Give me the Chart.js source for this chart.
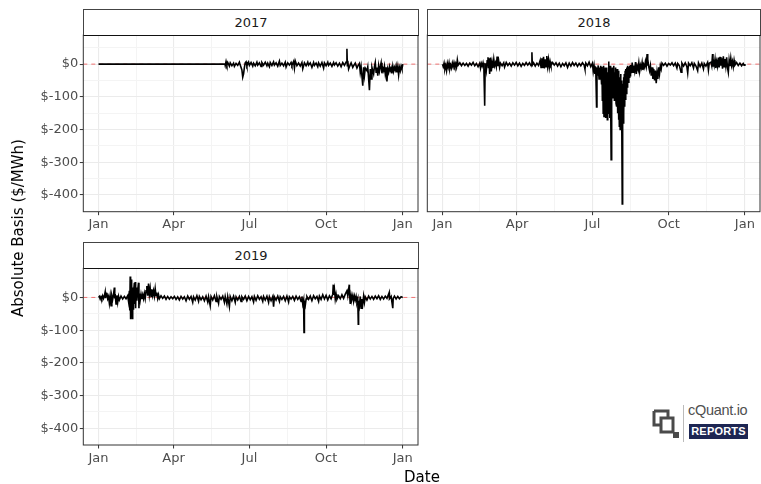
<!DOCTYPE html>
<html>
<head>
<meta charset="utf-8">
<script src="https://cdn.jsdelivr.net/npm/chart.js@4.4.1/dist/chart.umd.min.js"></script>
<style>
  html, body { margin: 0; padding: 0; background: #fff; }
  #wrap { position: relative; width: 761px; height: 484px; overflow: hidden; font-family: 'DejaVu Sans', sans-serif; }
  canvas { position: absolute; }
  .strip { position: absolute; box-sizing: border-box; border: 1px solid #444; border-bottom: 1.5px solid #111; background: #fff;
           color: #1a1a1a; font-size: 13px; text-align: center; line-height: 25px; }
  .axis-title { position: absolute; white-space: nowrap; font-size: 15px; color: #000; transform: translate(-50%, -50%); }
  #ytitle { transform: translate(-50%, -50%) rotate(-90deg); }
  .vbar { position: absolute; left: 683px; top: 405px; width: 1px; height: 37px; background: #bbb; }
  .brand { position: absolute; left: 688px; top: 402px; font-family: 'Liberation Sans', sans-serif; font-size: 14.5px; color: #505050; letter-spacing: -0.3px; }
  .badge { position: absolute; left: 689px; top: 424px; width: 59px; height: 15px; background: #1d2653; color: #fff;
           font-family: 'Liberation Sans', sans-serif; font-weight: bold; font-size: 11px; line-height: 15px; text-align: center; letter-spacing: 0.2px; }
</style>
</head>
<body>
<div id="wrap">
  <canvas id="c2017" width="430" height="220" style="left:0px;top:20px"></canvas>
  <canvas id="c2018" width="341" height="220" style="left:420px;top:20px"></canvas>
  <canvas id="c2019" width="430" height="231" style="left:0px;top:253px"></canvas>

  <div class="strip" style="left:83px;top:9px;width:336px;height:27px">2017</div>
  <div class="strip" style="left:427px;top:9px;width:334px;height:27px">2018</div>
  <div class="strip" style="left:83px;top:242px;width:336px;height:27px">2019</div>

  <div class="axis-title" id="ytitle" style="left:18px;top:228px">Absolute Basis ($/MWh)</div>
  <div class="axis-title" style="left:422px;top:477px">Date</div>

  <svg style="position:absolute;left:651px;top:408px" width="30" height="32" viewBox="0 0 30 32">
    <path d="M3 3 H17 V10 M3 3 V17 H9" fill="none" stroke="#4a4a4a" stroke-width="3"/>
    <path d="M10 10 H22 V24 H10 Z" fill="none" stroke="#4a4a4a" stroke-width="3"/>
    <rect x="22" y="24" width="6" height="6" fill="#4a4a4a"/>
  </svg>
  <div class="vbar"></div>
  <div class="brand">cQuant.io</div>
  <div class="badge">REPORTS</div>
</div>

<script>
// Day-of-year positions of the month labels on the date axis
const monthTickDays = [0, 90, 181, 273, 365];
const monthTickLabels = ['Jan', 'Apr', 'Jul', 'Oct', 'Jan'];
const minorDayTicks = [45, 135.5, 227, 319];

// Basis axis breaks
const basisTicks = [0, -100, -200, -300, -400];
const basisTickLabels = ['$0', '$-100', '$-200', '$-300', '$-400'];
const minorBasisTicks = [50, -50, -150, -250, -350];

// Absolute basis ($/MWh) by day of year: [day, value]
const basis2017 = [
  [0,0],[151,0],[151.5,3],[152,-4],[153,8],[154,-3],[155,5],[157,-6],[158,4],[160,-5],[162,3],[163,-7],[165,2],[167,-4],
  [169,6],[170,-3],[172,-18],[173,-40],[174,-30],[175,-10],[176,4],[177,7],[178,-5],[180,6],[181,-4],[183,5],[185,-6],
  [186,3],[188,-5],[190,6],[191,-3],[193,4],[195,-7],[196,5],[198,-3],[200,6],[202,-5],[203,3],[205,-8],[206,5],[208,-4],
  [210,7],[211,-3],[213,4],[215,-6],[217,9],[218,-4],[220,3],[222,-5],[224,6],[225,-9],[227,4],[229,-3],[231,5],[232,-4],
  [234,8],[235,-12],[236,10],[238,-5],[240,3],[242,-6],[244,5],[245,-14],[247,4],[249,-5],[251,6],[252,-3],[254,4],
  [256,-10],[258,5],[259,-4],[261,3],[263,-8],[264,4],[266,-6],[268,5],[270,-12],[271,4],[273,-5],[275,6],[276,-4],
  [278,3],[280,-7],[282,5],[283,-3],[285,4],[287,-6],[289,3],[291,-8],[293,5],[295,-4],[297,6],[298,47],[298.5,-5],
  [299,10],[300,-15],[301,-8],[303,4],[305,-10],[306,-5],[308,3],[310,-12],[311,-6],[313,2],[314,-25],[315,-8],[317,-66],
  [318,-10],[319,-35],[320,-12],[322,-20],[323,-8],[325,-80],[326,-15],[327,-45],[328,-10],[330,-30],[331,-8],[332,5],
  [333,-25],[334,-10],[335,-35],[336,-5],[337,-22],[338,-8],[339,4],[340,-28],[341,-12],[342,-20],[343,-6],[344,-30],
  [345,-10],[346,-53],[347,-15],[348,-25],[349,-8],[350,-20],[351,-12],[352,-28],[353,-6],[354,-22],[355,-10],[356,-18],
  [357,-5],[358,-25],[359,-8],[360,-33],[361,-10],[362,-20],[363,-6],[364,-15],[365,0]
];

const basis2018 = [
  [0,0],[1,-8],[2,3],[3,-15],[4,-4],[5,-20],[6,2],[7,-10],[8,4],[9,-14],[10,-3],[11,-12],[12,3],[13,-8],[14,5],[15,-6],
  [16,2],[17,-9],[18,13],[19,-3],[21,4],[23,-5],[25,3],[27,-4],[29,2],[31,-6],[33,3],[35,-3],[37,5],[39,-5],[41,2],
  [43,-8],[45,3],[46,-12],[47,2],[48,-6],[49,4],[50,-10],[51,-127],[51.5,-20],[52,3],[53,-18],[54,10],[55,21],[55.5,-10],
  [56,18],[57,-30],[58,20],[59,-22],[60,5],[61,-12],[62,15],[63,-5],[64,4],[65,-8],[66,23],[67,-6],[68,8],[69,-10],
  [70,3],[72,-5],[74,4],[75,-9],[77,5],[79,-4],[81,3],[83,-6],[85,4],[87,-3],[89,5],[91,-5],[93,3],[95,-7],[97,2],
  [99,-4],[101,5],[103,-3],[105,4],[107,-5],[108,36],[108.5,-3],[110,4],[112,-6],[114,3],[116,-4],[118,12],[119,-10],
  [120,18],[121,-12],[122,22],[123,-13],[124,15],[125,-8],[126,25],[127,-6],[128,14],[129,-10],[130,8],[131,-4],[133,5],
  [135,-3],[137,4],[139,-6],[141,3],[143,-8],[145,2],[147,-5],[149,4],[151,-10],[153,3],[155,-6],[157,5],[159,-4],
  [161,3],[163,-7],[165,2],[167,-5],[169,4],[171,-3],[172,-15],[173,3],[175,-5],[177,6],[179,-8],[181,3],[182,-22],
  [183,-5],[184,-30],[185,-8],[186,-131],[186.5,-10],[187,-35],[188,-4],[189,-45],[190,-10],[190.5,-38],[191,-5],
  [192,-60],[192.5,-8],[193,-110],[193.5,-15],[194,-150],[194.5,-5],[195,-160],[195.5,-20],[196,-140],[196.5,-10],
  [197,-165],[197.5,-30],[198,-120],[198.5,-10],[199,-170],[199.5,-25],[200,-150],[200.5,8],[201,-130],[201.5,-20],
  [202,-165],[202.5,-5],[203,-100],[203.6,-292],[204,-20],[204.5,-90],[205,-10],[205.5,-105],[206,-30],[206.5,-80],
  [207,-5],[207.5,-110],[208,-25],[208.5,-95],[209,-10],[209.5,-120],[210,-20],[210.5,-130],[211,-15],[211.5,-150],
  [212,-30],[212.5,-170],[213,-20],[213.5,-190],[214,-40],[214.5,-200],[215,-30],[215.5,-180],[216,-50],[216.5,-210],
  [217,-427],[217.5,-60],[218,-180],[218.5,-40],[219,-150],[219.5,-30],[220,-130],[220.5,-20],[221,-110],[221.5,-15],
  [222,-90],[222.5,-10],[223,-70],[223.5,-5],[224,-55],[225,-8],[225.5,-40],[226,-5],[226.5,-35],[227,-3],[228,-28],
  [229,5],[230,-25],[231,-4],[232,-20],[233,6],[234,-30],[235,-6],[236,-15],[237,4],[238,-22],[239,-3],[240,-12],
  [241,5],[242,-18],[243,-2],[244,-10],[245,8],[246,-6],[247,31],[247.5,-5],[248,15],[249,-8],[250,-20],[251,-5],
  [252,-35],[253,-10],[254,-45],[255,-15],[256,-50],[257,-20],[258,-58],[259,-25],[260,-45],[261,-10],[262,-30],
  [263,-5],[264,-15],[265,3],[267,-4],[269,3],[271,-6],[273,2],[275,-3],[277,4],[279,-5],[281,3],[283,-12],[284,2],
  [286,-5],[288,-25],[289,3],[291,-6],[293,4],[295,-8],[296,-27],[297,3],[299,-5],[301,4],[303,-12],[304,2],[306,-6],
  [308,-20],[309,4],[311,-8],[313,3],[315,-15],[316,2],[318,-6],[320,5],[321,-18],[322,3],[324,6],[325,-5],[326,31],
  [326.5,-8],[327,10],[328,-4],[329,15],[330,-12],[331,8],[332,-6],[333,20],[334,-10],[335,22],[336,-5],[337,18],
  [338,-14],[339,24],[340,-8],[341,16],[342,-6],[343,21],[344,-10],[345,-25],[346,12],[347,-6],[348,18],[349,-4],
  [350,8],[351,-8],[352,12],[353,-3],[355,5],[357,-4],[359,3],[361,-5],[363,2],[364,-3],[365,0]
];

const basis2019 = [
  [0,0],[1,3],[2,-5],[3,2],[4,-4],[5,5],[6,-3],[7,4],[8,17],[8.5,-2],[9,6],[10,14],[11,-4],[12,3],[13,-18],[14,4],
  [15,-25],[16,5],[17,-6],[18,8],[19,30],[19.5,-3],[20,10],[21,-20],[22,6],[23,-15],[24,3],[25,-8],[27,4],[29,-5],
  [31,3],[33,-4],[35,5],[36,-12],[37,20],[37.5,-40],[38,64],[38.5,-67],[39,55],[39.5,-60],[40,40],[40.5,-64],[41,30],
  [41.5,-35],[42,15],[43,45],[43.5,-20],[44,47],[44.5,-33],[45,30],[46,-10],[47,20],[48,45],[48.5,-33],[49,12],[50,-8],
  [51,10],[52,-5],[53,8],[54,-4],[55,12],[56,-3],[57,20],[58,35],[59,5],[60,42],[61,8],[62,28],[63,3],[64,25],[65,6],
  [66,20],[67,4],[68,27],[69,5],[70,15],[71,-3],[72,8],[73,-4],[75,5],[77,-3],[79,4],[81,-6],[83,3],[85,-5],[87,2],
  [89,-4],[91,3],[93,-6],[95,2],[97,-8],[99,3],[101,-5],[103,2],[105,-10],[107,4],[109,-6],[111,3],[113,-15],[114,2],
  [116,-8],[118,5],[120,-12],[121,3],[123,-7],[125,2],[127,-10],[129,4],[131,-14],[132,2],[134,-25],[135,3],[137,-8],
  [139,5],[141,-12],[142,2],[144,-18],[145,3],[147,-6],[149,4],[151,-15],[152,3],[154,-20],[155,2],[157,-28],[158,3],
  [160,-10],[162,4],[164,-15],[165,2],[167,-8],[169,3],[171,-12],[172,2],[174,-6],[176,4],[178,-10],[180,3],[182,-7],
  [184,2],[186,-14],[187,3],[189,-9],[191,5],[193,-6],[195,2],[197,-12],[198,3],[200,-8],[202,4],[204,-15],[205,2],
  [207,-10],[209,3],[210,-28],[211,2],[213,-8],[215,4],[217,-12],[218,2],[220,-6],[222,3],[224,-10],[226,4],[228,-14],
  [229,2],[231,-5],[233,3],[235,-9],[237,4],[239,-6],[241,2],[243,-12],[244,3],[245,-20],[246,-8],[246.5,-107],
  [247,-15],[248,-25],[249,-5],[250,3],[252,-6],[254,4],[256,-10],[258,5],[260,-4],[262,3],[264,-12],[265,4],[267,-6],
  [269,8],[271,-5],[273,6],[275,-8],[277,5],[279,-4],[281,10],[281.6,39],[282,8],[283,25],[284,-5],[285,10],[286,-6],
  [288,5],[290,-4],[292,8],[294,-3],[296,10],[298,20],[299,5],[300,25],[300.8,39],[301,15],[302,-20],[303,8],[304,-5],
  [305,6],[306,-12],[307,4],[308,-8],[309,3],[310,-15],[311,-5],[311.6,-82],[312,-10],[313,-25],[314,3],[315,-33],
  [316,-5],[317,-20],[318,4],[319,-15],[320,2],[322,-8],[324,4],[326,-5],[328,3],[330,-6],[332,4],[334,-4],[336,5],
  [338,-6],[340,3],[342,-5],[344,4],[346,-3],[348,10],[348.7,15],[349,-4],[351,3],[353,-33],[353.5,-3],[355,4],
  [357,-5],[359,3],[361,-4],[363,2],[365,0]
];

const DAY_MIN = -18.25, DAY_MAX = 383.25;
const BASIS_MIN = -451, BASIS_MAX = 89;

const isMajorDay = v => monthTickDays.includes(v);
const isMajorBasis = v => basisTicks.includes(v);

// Dashed zero reference line under the series, plus the panel frame on top
const panelDecor = {
  id: 'panelDecor',
  beforeDatasetsDraw(chart) {
    const { ctx, chartArea: a, scales } = chart;
    const y0 = scales.y.getPixelForValue(0);
    ctx.save();
    ctx.strokeStyle = 'rgba(240,90,90,0.85)';
    ctx.lineWidth = 1;
    ctx.setLineDash([4, 4]);
    ctx.beginPath();
    ctx.moveTo(a.left, y0);
    ctx.lineTo(a.right, y0);
    ctx.stroke();
    ctx.restore();
  },
  afterDraw(chart) {
    const { ctx, chartArea: a } = chart;
    ctx.save();
    ctx.strokeStyle = '#333';
    ctx.lineWidth = 1;
    ctx.strokeRect(a.left, a.top, a.right - a.left, a.bottom - a.top);
    ctx.restore();
  }
};

function makePanel(canvasId, series, showBasisAxis, padding) {
  const tickFont = { family: 'DejaVu Sans', size: 13 };
  return new Chart(document.getElementById(canvasId), {
    type: 'line',
    data: {
      datasets: [{
        data: series.map(([d, v]) => ({ x: d, y: v })),
        borderColor: '#000',
        borderWidth: 1.6,
        pointRadius: 0,
        tension: 0,
        fill: false
      }]
    },
    options: {
      responsive: false,
      animation: false,
      devicePixelRatio: 1,
      events: [],
      parsing: false,
      layout: { padding },
      plugins: { legend: { display: false }, tooltip: { enabled: false } },
      scales: {
        x: {
          type: 'linear',
          min: DAY_MIN,
          max: DAY_MAX,
          afterBuildTicks: s => { s.ticks = [...monthTickDays, ...minorDayTicks].sort((a, b) => a - b).map(v => ({ value: v })); },
          afterFit: s => { s.height = 22; },
          ticks: {
            autoSkip: false, maxRotation: 0, minRotation: 0, padding: 2,
            color: '#4d4d4d', font: tickFont,
            callback: v => { const i = monthTickDays.indexOf(v); return i >= 0 ? monthTickLabels[i] : ''; }
          },
          grid: {
            color: c => (c.tick && isMajorDay(c.tick.value)) ? '#ebebeb' : '#f4f4f4',
            lineWidth: c => (c.tick && isMajorDay(c.tick.value)) ? 1.1 : 1,
            tickColor: c => (c.tick && isMajorDay(c.tick.value)) ? '#333' : 'rgba(0,0,0,0)',
            tickLength: 3.5,
            tickWidth: 1
          },
          border: { display: false }
        },
        y: {
          type: 'linear',
          min: BASIS_MIN,
          max: BASIS_MAX,
          afterBuildTicks: s => { s.ticks = [...basisTicks, ...minorBasisTicks].sort((a, b) => a - b).map(v => ({ value: v })); },
          afterFit: s => { s.width = showBasisAxis ? 60 : 0; },
          ticks: {
            display: showBasisAxis,
            autoSkip: false, padding: 1.5,
            color: '#4d4d4d', font: tickFont,
            callback: v => { const i = basisTicks.indexOf(v); return i >= 0 ? basisTickLabels[i] : ''; }
          },
          grid: {
            drawTicks: showBasisAxis,
            color: c => (c.tick && isMajorBasis(c.tick.value)) ? '#ebebeb' : '#f4f4f4',
            lineWidth: c => (c.tick && isMajorBasis(c.tick.value)) ? 1.1 : 1,
            tickColor: c => (c.tick && isMajorBasis(c.tick.value)) ? '#333' : 'rgba(0,0,0,0)',
            tickLength: 3.5,
            tickWidth: 1
          },
          border: { display: false }
        }
      }
    },
    plugins: [panelDecor]
  });
}

makePanel('c2017', basis2017, true,  { left: 23.3, top: 15,   right: 12, bottom: 6.3 });
makePanel('c2018', basis2018, false, { left: 7.3,  top: 15,   right: 1,  bottom: 6.3 });
makePanel('c2019', basis2019, true,  { left: 23.3, top: 15.3, right: 12, bottom: 17 });
</script>
</body>
</html>
